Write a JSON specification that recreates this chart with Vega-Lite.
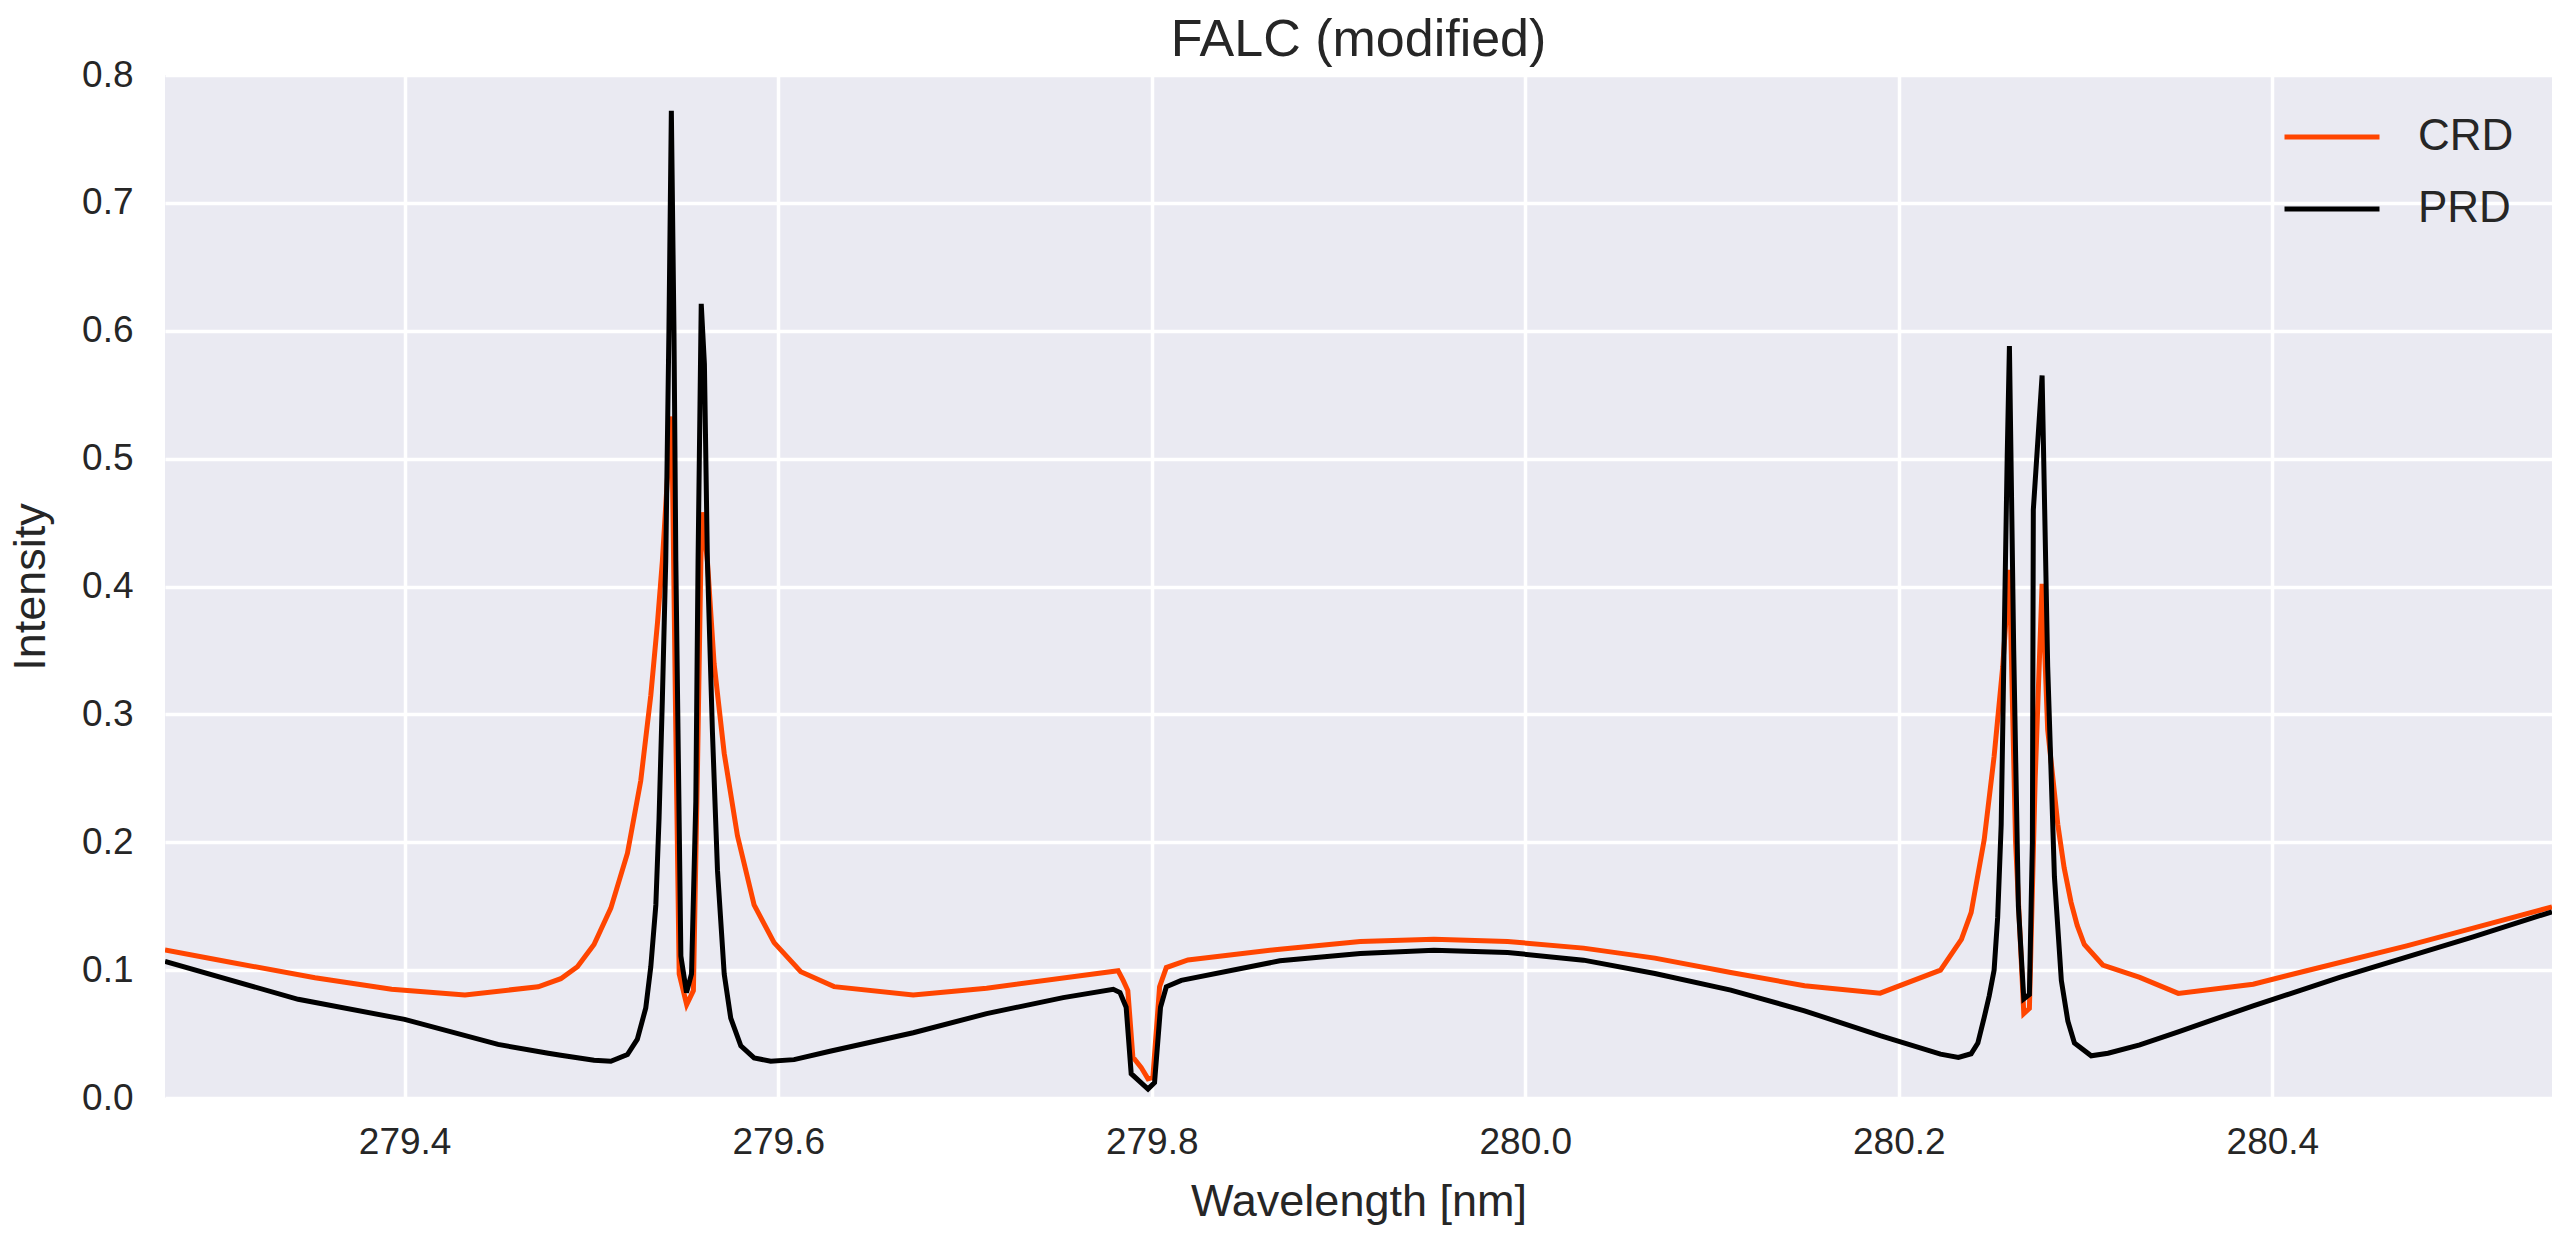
{
  "$schema": "https://vega.github.io/schema/vega-lite/v6.json",
  "width": 2387,
  "height": 1023,
  "autosize": {"type": "none"},
  "padding": {"left": 165, "top": 75, "right": 17, "bottom": 135},
  "background": "white",
  "title": {"text": "FALC (modified)", "font": "Liberation Sans", "fontSize": 52, "fontWeight": "normal", "color": "#262626", "anchor": "middle", "frame": "group", "offset": -11},
  "config": {
    "view": {"fill": "#EAEAF2", "stroke": null},
    "axis": {"grid": true, "gridColor": "#FFFFFF", "gridWidth": 3.5, "gridOpacity": 1, "domain": false, "ticks": false, "labelFont": "Liberation Sans", "labelFontSize": 37, "labelColor": "#262626", "titleFont": "Liberation Sans", "titleFontSize": 45, "titleFontWeight": "normal", "titleColor": "#262626"}
  },
  "data": {"values": [
    {"wl": 279.2717, "intensity": 0.1157, "series": "CRD"},
    {"wl": 279.3074, "intensity": 0.106, "series": "CRD"},
    {"wl": 279.352, "intensity": 0.094, "series": "CRD"},
    {"wl": 279.393, "intensity": 0.085, "series": "CRD"},
    {"wl": 279.4323, "intensity": 0.0806, "series": "CRD"},
    {"wl": 279.4715, "intensity": 0.087, "series": "CRD"},
    {"wl": 279.4836, "intensity": 0.0933, "series": "CRD"},
    {"wl": 279.4925, "intensity": 0.1027, "series": "CRD"},
    {"wl": 279.5014, "intensity": 0.12, "series": "CRD"},
    {"wl": 279.5104, "intensity": 0.1485, "series": "CRD"},
    {"wl": 279.5193, "intensity": 0.1915, "series": "CRD"},
    {"wl": 279.5264, "intensity": 0.248, "series": "CRD"},
    {"wl": 279.5318, "intensity": 0.315, "series": "CRD"},
    {"wl": 279.5354, "intensity": 0.372, "series": "CRD"},
    {"wl": 279.538, "intensity": 0.42, "series": "CRD"},
    {"wl": 279.5405, "intensity": 0.48, "series": "CRD"},
    {"wl": 279.543, "intensity": 0.533, "series": "CRD"},
    {"wl": 279.5452, "intensity": 0.286, "series": "CRD"},
    {"wl": 279.547, "intensity": 0.097, "series": "CRD"},
    {"wl": 279.551, "intensity": 0.073, "series": "CRD"},
    {"wl": 279.5546, "intensity": 0.084, "series": "CRD"},
    {"wl": 279.5568, "intensity": 0.259, "series": "CRD"},
    {"wl": 279.5586, "intensity": 0.42, "series": "CRD"},
    {"wl": 279.5593, "intensity": 0.458, "series": "CRD"},
    {"wl": 279.5621, "intensity": 0.42, "series": "CRD"},
    {"wl": 279.5657, "intensity": 0.3395, "series": "CRD"},
    {"wl": 279.5711, "intensity": 0.2695, "series": "CRD"},
    {"wl": 279.5782, "intensity": 0.205, "series": "CRD"},
    {"wl": 279.5871, "intensity": 0.151, "series": "CRD"},
    {"wl": 279.5978, "intensity": 0.1215, "series": "CRD"},
    {"wl": 279.6121, "intensity": 0.0987, "series": "CRD"},
    {"wl": 279.6299, "intensity": 0.0871, "series": "CRD"},
    {"wl": 279.6723, "intensity": 0.0806, "series": "CRD"},
    {"wl": 279.7116, "intensity": 0.0859, "series": "CRD"},
    {"wl": 279.782, "intensity": 0.0995, "series": "CRD"},
    {"wl": 279.7847, "intensity": 0.092, "series": "CRD"},
    {"wl": 279.7872, "intensity": 0.084, "series": "CRD"},
    {"wl": 279.7899, "intensity": 0.032, "series": "CRD"},
    {"wl": 279.7943, "intensity": 0.024, "series": "CRD"},
    {"wl": 279.798, "intensity": 0.015, "series": "CRD"},
    {"wl": 279.8006, "intensity": 0.016, "series": "CRD"},
    {"wl": 279.8042, "intensity": 0.087, "series": "CRD"},
    {"wl": 279.8078, "intensity": 0.102, "series": "CRD"},
    {"wl": 279.8194, "intensity": 0.108, "series": "CRD"},
    {"wl": 279.8686, "intensity": 0.1164, "series": "CRD"},
    {"wl": 279.9117, "intensity": 0.1224, "series": "CRD"},
    {"wl": 279.9511, "intensity": 0.1242, "series": "CRD"},
    {"wl": 279.9905, "intensity": 0.1224, "series": "CRD"},
    {"wl": 280.0312, "intensity": 0.1172, "series": "CRD"},
    {"wl": 280.0694, "intensity": 0.1094, "series": "CRD"},
    {"wl": 280.11, "intensity": 0.0982, "series": "CRD"},
    {"wl": 280.1495, "intensity": 0.0878, "series": "CRD"},
    {"wl": 280.19, "intensity": 0.082, "series": "CRD"},
    {"wl": 280.2223, "intensity": 0.1, "series": "CRD"},
    {"wl": 280.2335, "intensity": 0.124, "series": "CRD"},
    {"wl": 280.2387, "intensity": 0.145, "series": "CRD"},
    {"wl": 280.2457, "intensity": 0.202, "series": "CRD"},
    {"wl": 280.251, "intensity": 0.267, "series": "CRD"},
    {"wl": 280.2556, "intensity": 0.337, "series": "CRD"},
    {"wl": 280.2592, "intensity": 0.413, "series": "CRD"},
    {"wl": 280.2625, "intensity": 0.2, "series": "CRD"},
    {"wl": 280.2669, "intensity": 0.066, "series": "CRD"},
    {"wl": 280.2699, "intensity": 0.07, "series": "CRD"},
    {"wl": 280.273, "intensity": 0.25, "series": "CRD"},
    {"wl": 280.2767, "intensity": 0.402, "series": "CRD"},
    {"wl": 280.2797, "intensity": 0.288, "series": "CRD"},
    {"wl": 280.2851, "intensity": 0.214, "series": "CRD"},
    {"wl": 280.2885, "intensity": 0.18, "series": "CRD"},
    {"wl": 280.2922, "intensity": 0.153, "series": "CRD"},
    {"wl": 280.2955, "intensity": 0.135, "series": "CRD"},
    {"wl": 280.2993, "intensity": 0.12, "series": "CRD"},
    {"wl": 280.3092, "intensity": 0.104, "series": "CRD"},
    {"wl": 280.329, "intensity": 0.0943, "series": "CRD"},
    {"wl": 280.3496, "intensity": 0.0818, "series": "CRD"},
    {"wl": 280.3897, "intensity": 0.089, "series": "CRD"},
    {"wl": 280.4183, "intensity": 0.0995, "series": "CRD"},
    {"wl": 280.4719, "intensity": 0.119, "series": "CRD"},
    {"wl": 280.5075, "intensity": 0.1328, "series": "CRD"},
    {"wl": 280.5497, "intensity": 0.1495, "series": "CRD"},
    {"wl": 279.2717, "intensity": 0.1068, "series": "PRD"},
    {"wl": 279.343, "intensity": 0.0772, "series": "PRD"},
    {"wl": 279.4, "intensity": 0.0615, "series": "PRD"},
    {"wl": 279.45, "intensity": 0.0419, "series": "PRD"},
    {"wl": 279.4769, "intensity": 0.035, "series": "PRD"},
    {"wl": 279.4836, "intensity": 0.0335, "series": "PRD"},
    {"wl": 279.5014, "intensity": 0.0295, "series": "PRD"},
    {"wl": 279.5104, "intensity": 0.0287, "series": "PRD"},
    {"wl": 279.5193, "intensity": 0.034, "series": "PRD"},
    {"wl": 279.5246, "intensity": 0.046, "series": "PRD"},
    {"wl": 279.5291, "intensity": 0.0704, "series": "PRD"},
    {"wl": 279.5318, "intensity": 0.1027, "series": "PRD"},
    {"wl": 279.5345, "intensity": 0.151, "series": "PRD"},
    {"wl": 279.5362, "intensity": 0.218, "series": "PRD"},
    {"wl": 279.538, "intensity": 0.3125, "series": "PRD"},
    {"wl": 279.5398, "intensity": 0.42, "series": "PRD"},
    {"wl": 279.5415, "intensity": 0.6, "series": "PRD"},
    {"wl": 279.5428, "intensity": 0.772, "series": "PRD"},
    {"wl": 279.5442, "intensity": 0.6, "series": "PRD"},
    {"wl": 279.5452, "intensity": 0.42, "series": "PRD"},
    {"wl": 279.5479, "intensity": 0.111, "series": "PRD"},
    {"wl": 279.5509, "intensity": 0.0825, "series": "PRD"},
    {"wl": 279.5536, "intensity": 0.097, "series": "PRD"},
    {"wl": 279.5559, "intensity": 0.232, "series": "PRD"},
    {"wl": 279.5571, "intensity": 0.42, "series": "PRD"},
    {"wl": 279.5588, "intensity": 0.621, "series": "PRD"},
    {"wl": 279.5605, "intensity": 0.574, "series": "PRD"},
    {"wl": 279.5621, "intensity": 0.42, "series": "PRD"},
    {"wl": 279.5648, "intensity": 0.286, "series": "PRD"},
    {"wl": 279.5675, "intensity": 0.178, "series": "PRD"},
    {"wl": 279.5711, "intensity": 0.097, "series": "PRD"},
    {"wl": 279.5746, "intensity": 0.0624, "series": "PRD"},
    {"wl": 279.58, "intensity": 0.0408, "series": "PRD"},
    {"wl": 279.5871, "intensity": 0.0314, "series": "PRD"},
    {"wl": 279.596, "intensity": 0.0287, "series": "PRD"},
    {"wl": 279.6085, "intensity": 0.03, "series": "PRD"},
    {"wl": 279.6277, "intensity": 0.0366, "series": "PRD"},
    {"wl": 279.6723, "intensity": 0.051, "series": "PRD"},
    {"wl": 279.7116, "intensity": 0.066, "series": "PRD"},
    {"wl": 279.7526, "intensity": 0.0785, "series": "PRD"},
    {"wl": 279.7794, "intensity": 0.085, "series": "PRD"},
    {"wl": 279.783, "intensity": 0.0825, "series": "PRD"},
    {"wl": 279.7863, "intensity": 0.071, "series": "PRD"},
    {"wl": 279.789, "intensity": 0.019, "series": "PRD"},
    {"wl": 279.798, "intensity": 0.007, "series": "PRD"},
    {"wl": 279.8015, "intensity": 0.012, "series": "PRD"},
    {"wl": 279.8047, "intensity": 0.071, "series": "PRD"},
    {"wl": 279.8078, "intensity": 0.087, "series": "PRD"},
    {"wl": 279.8158, "intensity": 0.092, "series": "PRD"},
    {"wl": 279.8686, "intensity": 0.1073, "series": "PRD"},
    {"wl": 279.9117, "intensity": 0.113, "series": "PRD"},
    {"wl": 279.9511, "intensity": 0.1156, "series": "PRD"},
    {"wl": 279.9905, "intensity": 0.1138, "series": "PRD"},
    {"wl": 280.0312, "intensity": 0.1078, "series": "PRD"},
    {"wl": 280.0694, "intensity": 0.0974, "series": "PRD"},
    {"wl": 280.11, "intensity": 0.0844, "series": "PRD"},
    {"wl": 280.1495, "intensity": 0.0682, "series": "PRD"},
    {"wl": 280.19, "intensity": 0.0487, "series": "PRD"},
    {"wl": 280.2223, "intensity": 0.0343, "series": "PRD"},
    {"wl": 280.2319, "intensity": 0.0317, "series": "PRD"},
    {"wl": 280.2387, "intensity": 0.0346, "series": "PRD"},
    {"wl": 280.2423, "intensity": 0.043, "series": "PRD"},
    {"wl": 280.2457, "intensity": 0.063, "series": "PRD"},
    {"wl": 280.2484, "intensity": 0.08, "series": "PRD"},
    {"wl": 280.251, "intensity": 0.1, "series": "PRD"},
    {"wl": 280.2529, "intensity": 0.141, "series": "PRD"},
    {"wl": 280.2548, "intensity": 0.214, "series": "PRD"},
    {"wl": 280.2566, "intensity": 0.377, "series": "PRD"},
    {"wl": 280.258, "intensity": 0.5, "series": "PRD"},
    {"wl": 280.2592, "intensity": 0.588, "series": "PRD"},
    {"wl": 280.2615, "intensity": 0.35, "series": "PRD"},
    {"wl": 280.264, "intensity": 0.15, "series": "PRD"},
    {"wl": 280.2669, "intensity": 0.0775, "series": "PRD"},
    {"wl": 280.2699, "intensity": 0.081, "series": "PRD"},
    {"wl": 280.2715, "intensity": 0.2, "series": "PRD"},
    {"wl": 280.272, "intensity": 0.46, "series": "PRD"},
    {"wl": 280.2767, "intensity": 0.565, "series": "PRD"},
    {"wl": 280.2797, "intensity": 0.337, "series": "PRD"},
    {"wl": 280.2833, "intensity": 0.173, "series": "PRD"},
    {"wl": 280.287, "intensity": 0.092, "series": "PRD"},
    {"wl": 280.2905, "intensity": 0.06, "series": "PRD"},
    {"wl": 280.294, "intensity": 0.043, "series": "PRD"},
    {"wl": 280.303, "intensity": 0.033, "series": "PRD"},
    {"wl": 280.312, "intensity": 0.035, "series": "PRD"},
    {"wl": 280.329, "intensity": 0.0416, "series": "PRD"},
    {"wl": 280.3496, "intensity": 0.0518, "series": "PRD"},
    {"wl": 280.3897, "intensity": 0.0721, "series": "PRD"},
    {"wl": 280.436, "intensity": 0.0943, "series": "PRD"},
    {"wl": 280.5075, "intensity": 0.126, "series": "PRD"},
    {"wl": 280.5497, "intensity": 0.1456, "series": "PRD"}
  ]},
  "mark": {"type": "line", "strokeWidth": 5, "interpolate": "linear", "clip": true},
  "encoding": {
    "x": {"field": "wl", "type": "quantitative", "title": "Wavelength [nm]",
      "scale": {"domain": [279.2717, 280.5497], "nice": false, "zero": false},
      "axis": {"values": [279.4, 279.6, 279.8, 280.0, 280.2, 280.4], "format": ".1f", "labelPadding": 26, "titlePadding": 19}},
    "y": {"field": "intensity", "type": "quantitative", "title": "Intensity",
      "scale": {"domain": [0, 0.8], "nice": false},
      "axis": {"values": [0, 0.1, 0.2, 0.3, 0.4, 0.5, 0.6, 0.7, 0.8], "format": ".1f", "labelPadding": 32, "titlePadding": 28}},
    "color": {"field": "series", "type": "nominal",
      "scale": {"domain": ["CRD", "PRD"], "range": ["#FF4500", "#000000"]},
      "legend": {"title": null, "orient": "none", "legendX": 2117, "legendY": 12, "symbolType": "stroke", "symbolSize": 9025, "symbolStrokeWidth": 5, "rowPadding": -37, "padding": 0, "labelOffset": 36, "labelFont": "Liberation Sans", "labelFontSize": 44, "labelColor": "#262626"}}
  }
}
